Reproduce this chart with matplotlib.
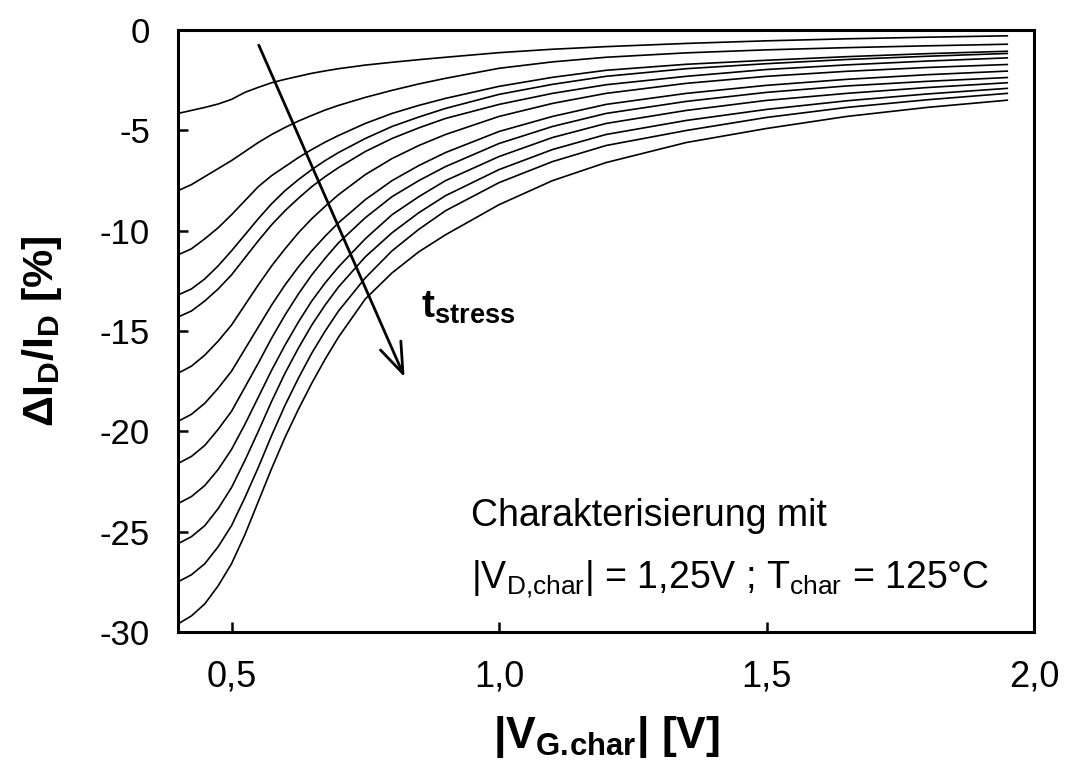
import matplotlib
matplotlib.use("Agg")
import matplotlib.pyplot as plt

# |V_G,char| sample points [V]
vg = [0.40, 0.425, 0.45, 0.475, 0.50, 0.525, 0.55, 0.575, 0.60, 0.625, 0.65, 0.675,
      0.70, 0.75, 0.80, 0.85, 0.90, 1.00, 1.10, 1.20, 1.35, 1.50, 1.65, 1.80, 1.95]

# dI_D/I_D [%] for increasing stress time (top -> bottom)
c01 = [-4.15, -4.0, -3.85, -3.68, -3.45, -3.1, -2.85, -2.62, -2.45, -2.3, -2.15, -2.03,
       -1.92, -1.74, -1.60, -1.47, -1.35, -1.12, -0.95, -0.82, -0.66, -0.53, -0.43, -0.35, -0.28]
c02 = [-8.0, -7.7, -7.3, -6.9, -6.5, -6.05, -5.6, -5.2, -4.85, -4.53, -4.25, -3.98,
       -3.75, -3.35, -3.0, -2.68, -2.4, -1.9, -1.58, -1.35, -1.13, -0.98, -0.87, -0.78, -0.70]
c03 = [-11.2, -10.9, -10.4, -9.85, -9.2, -8.5, -7.8, -7.25, -6.8, -6.35, -5.95, -5.58,
       -5.25, -4.65, -4.15, -3.75, -3.4, -2.8, -2.35, -2.0, -1.7, -1.5, -1.32, -1.17, -1.05]
c04 = [-13.2, -12.9, -12.4, -11.75, -11.0, -10.2, -9.4, -8.65, -8.0, -7.45, -6.95, -6.5,
       -6.1, -5.4, -4.8, -4.33, -3.9, -3.2, -2.7, -2.3, -1.92, -1.67, -1.46, -1.30, -1.16]
c05 = [-14.3, -14.0, -13.5, -12.9, -12.2, -11.35, -10.5, -9.7, -9.0, -8.38, -7.8, -7.3,
       -6.85, -6.05, -5.4, -4.87, -4.4, -3.7, -3.15, -2.72, -2.3, -1.96, -1.73, -1.54, -1.38]
c06 = [-17.1, -16.75, -16.2, -15.5, -14.7, -13.7, -12.7, -11.75, -10.9, -10.1, -9.4, -8.78,
       -8.2, -7.2, -6.4, -5.75, -5.2, -4.3, -3.65, -3.15, -2.65, -2.3, -2.05, -1.86, -1.71]
c07 = [-19.5, -19.15, -18.6, -17.85, -17.0, -15.9, -14.8, -13.7, -12.7, -11.8, -11.0, -10.27,
       -9.6, -8.45, -7.5, -6.75, -6.1, -5.05, -4.3, -3.7, -3.15, -2.75, -2.45, -2.22, -2.04]
c08 = [-21.6, -21.25, -20.7, -19.9, -19.0, -17.8, -16.6, -15.35, -14.2, -13.15, -12.2, -11.37,
       -10.6, -9.35, -8.3, -7.5, -6.8, -5.65, -4.8, -4.15, -3.55, -3.1, -2.78, -2.55, -2.36]
c09 = [-23.6, -23.25, -22.7, -21.9, -20.9, -19.65, -18.3, -16.95, -15.7, -14.55, -13.5, -12.6,
       -11.8, -10.4, -9.2, -8.3, -7.5, -6.3, -5.35, -4.65, -4.0, -3.5, -3.15, -2.86, -2.62]
c10 = [-25.6, -25.25, -24.7, -23.85, -22.8, -21.45, -20.0, -18.5, -17.1, -15.85, -14.7, -13.7,
       -12.8, -11.3, -10.1, -9.1, -8.25, -6.95, -5.95, -5.2, -4.5, -3.95, -3.52, -3.18, -2.90]
c11 = [-27.5, -27.15, -26.6, -25.75, -24.7, -23.3, -21.8, -20.2, -18.7, -17.35, -16.1, -15.0,
       -14.0, -12.35, -11.0, -9.93, -9.0, -7.6, -6.55, -5.75, -5.0, -4.35, -3.85, -3.47, -3.15]
c12 = [-29.6, -29.2, -28.6, -27.7, -26.6, -25.15, -23.5, -21.85, -20.3, -18.9, -17.6, -16.4,
       -15.3, -13.4, -12.1, -11.05, -10.2, -8.7, -7.5, -6.6, -5.6, -4.9, -4.3, -3.85, -3.49]
curves = [c01, c02, c03, c04, c05, c06, c07, c08, c09, c10, c11, c12]

xticks = [0.5, 1.0, 1.5, 2.0]
xticklabels = ["0,5", "1,0", "1,5", "2,0"]
yticks = [0, -5, -10, -15, -20, -25, -30]

plt.rcParams["font.family"] = ["Liberation Sans", "DejaVu Sans"]
plt.rcParams["mathtext.fontset"] = "custom"
plt.rcParams["mathtext.rm"] = "Liberation Sans"
plt.rcParams["mathtext.it"] = "Liberation Sans"
plt.rcParams["mathtext.bf"] = "Liberation Sans:bold"

fig = plt.figure(figsize=(10.66, 7.74), dpi=100)
ax = fig.add_axes([0.167, 0.1835, 0.803, 0.7775])

for c in curves:
    ax.plot(vg, c, color="black", lw=1.2)

ax.set_xlim(0.4, 2.0)
ax.set_ylim(-30, 0)
ax.set_xticks(xticks)
ax.set_xticklabels(xticklabels)
ax.set_yticks(yticks)
ax.set_yticklabels([str(t) for t in yticks])
ax.tick_params(direction="in", length=7, width=1.8, labelsize=25, pad=20,
               top=False, right=False)
ax.tick_params(axis="x", labelsize=26)

for s in ax.spines.values():
    s.set_linewidth(2.2)

ax.set_xlabel("|V$_{\\mathbf{G.\\!char}}$| [V]", fontsize=32, fontweight="bold", labelpad=14)
ax.set_ylabel("\u0394I$_{\\mathbf{D}}$/I$_{\\mathbf{D}}$ [%]", fontsize=31, fontweight="bold", labelpad=26)

# stress-time arrow
ax.annotate("", xy=(0.8235, -17.3), xytext=(0.551, -0.75),
            arrowprops=dict(arrowstyle="->,head_length=1.1,head_width=0.4",
                            lw=2.0, color="black", mutation_scale=20,
                            shrinkA=0, shrinkB=0))
ax.text(0.855, -14.35, "t$_{\\mathbf{stress}}$", fontsize=28, fontweight="bold")

ax.text(0.947, -24.7, "Charakterisierung mit", fontsize=27)
ax.text(0.947, -27.8, "|V$_{\\mathrm{D{,}char}}$| = 1,25V ; T$_{\\mathrm{char}}$ = 125°C", fontsize=27)

fig.savefig("out.png", dpi=100)
